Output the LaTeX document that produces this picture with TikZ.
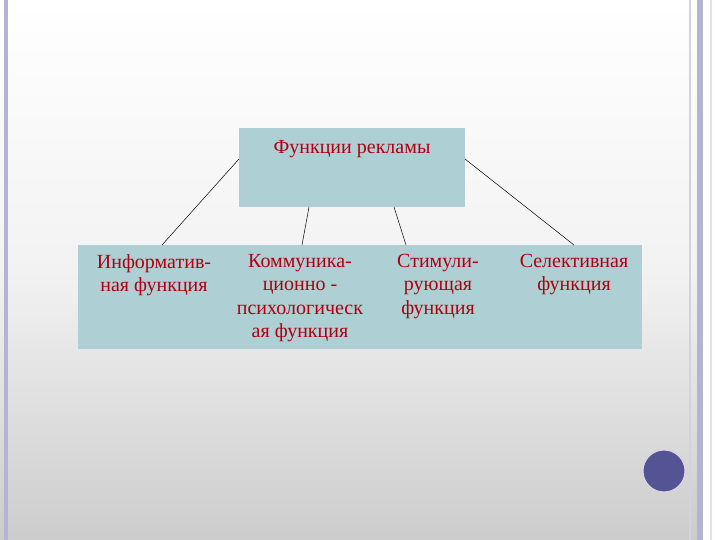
\documentclass[tikz,border=0pt]{standalone}
\usepackage{fontspec}
\setmainfont{Liberation Serif}
\begin{document}
\begin{tikzpicture}[x=1pt,y=-1pt,
  box/.style={fill=boxc,draw=none},
  lbl/.style={text=txtc,font=\fontsize{20}{23.5}\selectfont,align=center,inner sep=0pt,anchor=north},
  conn/.style={draw=black,line width=0.5pt}]
\definecolor{boxc}{HTML}{AECFD3}
\definecolor{txtc}{HTML}{B00010}
\definecolor{bord}{HTML}{B4B4D0}
\definecolor{circ}{HTML}{545494}
\useasboundingbox (0,0) rectangle (720,540);
\shade[top color=white,bottom color=white!80!black,middle color=white!95!black] (0,0) rectangle (720,540);
\fill[bord] (4,0) rectangle (8,540);
\fill[bord!60] (689,0) rectangle (691,540);
\fill[bord] (697,0) rectangle (703,540);
\fill[white] (703,0) rectangle (720,540);
\fill[bord!40] (710,0) rectangle (712,540);
\node[box,minimum width=226,minimum height=79,anchor=north west,inner sep=0] (top) at (239,128) {};
\node[box,minimum width=564,minimum height=104,anchor=north west,inner sep=0] (bot) at (78,245) {};
\node[lbl] (t) at (352,140) {Функции рекламы};
\node[lbl] (a) at (154,254) {Информатив-\\ная функция};
\node[lbl] (b) at (300,254) {Коммуника-\\ционно -\\психологическ\\ая функция};
\node[lbl] (c) at (438,254) {Стимули-\\рующая\\функция};
\node[lbl] (d) at (574,254) {Селективная\\функция};
\coordinate (a1) at (239,159); \coordinate (a2) at (162,245);
\coordinate (b1) at (309,207); \coordinate (b2) at (302,245);
\coordinate (c1) at (394,207); \coordinate (c2) at (406,245);
\coordinate (d1) at (465,159); \coordinate (d2) at (574,245);
\draw[conn] (a1)--(a2); \draw[conn] (b1)--(b2);
\draw[conn] (c1)--(c2); \draw[conn] (d1)--(d2);
\node[circle,fill=circ,draw=bord!50,line width=1pt,minimum size=42,inner sep=0] (k) at (664,471) {};
\end{tikzpicture}
\end{document}
